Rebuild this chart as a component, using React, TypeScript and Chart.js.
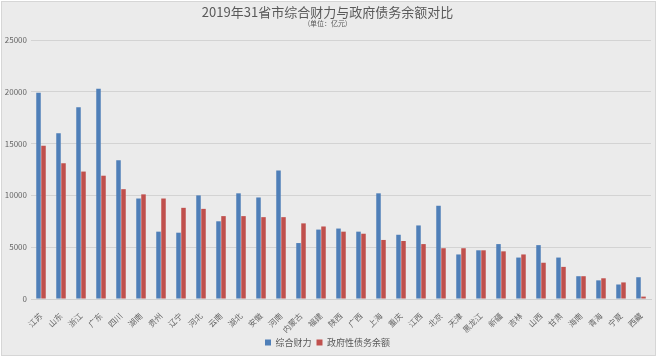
import { useEffect, useRef } from 'react';
import { Chart, registerables } from 'chart.js';

Chart.register(...registerables);

const FONT = '"Noto Sans CJK SC", "Noto Sans", sans-serif';

const categories = ['江苏', '山东', '浙江', '广东', '四川', '湖南', '贵州', '辽宁', '河北', '云南', '湖北', '安徽', '河南', '内蒙古', '福建', '陕西', '广西', '上海', '重庆', '江西', '北京', '天津', '黑龙江', '新疆', '吉林', '山西', '甘肃', '海南', '青海', '宁夏', '西藏'];
const comprehensiveFinance = [19900, 16000, 18500, 20300, 13400, 9700, 6500, 6400, 10000, 7500, 10200, 9800, 12400, 5400, 6700, 6800, 6500, 10200, 6200, 7100, 9000, 4300, 4700, 5300, 4000, 5200, 4000, 2200, 1800, 1400, 2100];
const govDebt = [14800, 13100, 12300, 11900, 10600, 10100, 9700, 8800, 8700, 8000, 8000, 7900, 7900, 7300, 7000, 6500, 6300, 5700, 5600, 5300, 4900, 4900, 4700, 4600, 4300, 3500, 3100, 2200, 2000, 1600, 230];
const seriesNames = ['综合财力', '政府性债务余额'];
const titleText = '2019年31省市综合财力与政府债务余额对比';
const subtitleText = '(单位：亿元)';

export default function App() {
  const ref = useRef<HTMLCanvasElement>(null);
  useEffect(() => {
    document.body.style.margin = '0';
    const bgPlugin = {
      id: 'bg',
      beforeDraw(chart: any) {
        const ctx = chart.ctx;
        ctx.save();
        ctx.fillStyle = '#ffffff';
        ctx.fillRect(0, 0, chart.width, chart.height);
        ctx.fillStyle = '#ebebeb';
        ctx.fillRect(1, 1, 655, 355);
        ctx.strokeStyle = '#d6d6d6';
        ctx.lineWidth = 1;
        ctx.strokeRect(1.5, 1.5, 654, 354);
        ctx.restore();
      },
    };
    const chart = new Chart(ref.current as HTMLCanvasElement, {
      type: 'bar',
      data: {
        labels: categories,
        datasets: [
          { label: seriesNames[0], data: comprehensiveFinance, backgroundColor: '#4f7fb8' },
          { label: seriesNames[1], data: govDebt, backgroundColor: '#c0504d' },
        ],
      },
      options: {
        responsive: false,
        devicePixelRatio: 1,
        animation: false,
        datasets: { bar: { categoryPercentage: 0.5, barPercentage: 0.9 } },
        layout: { padding: { left: 4, right: 9, top: 0, bottom: 2 } },
        plugins: {
          title: {
            display: true,
            text: titleText,
            color: '#595959',
            font: { family: FONT, size: 13, lineHeight: 1, weight: 'normal' },
            padding: { top: 6, bottom: 0 },
          },
          subtitle: {
            display: true,
            text: subtitleText,
            color: '#595959',
            font: { family: FONT, size: 7, lineHeight: 1.2 },
            padding: { top: 0, bottom: 12.6 },
          },
          legend: {
            position: 'bottom',
            labels: {
              boxWidth: 6,
              boxHeight: 6,
              padding: 5,
              color: '#595959',
              font: { family: FONT, size: 9 },
            },
          },
          tooltip: { enabled: false },
        },
        scales: {
          x: {
            grid: { display: false },
            border: { display: true, color: '#cfcfcf' },
            ticks: {
              autoSkip: false,
              minRotation: 45,
              maxRotation: 45,
              padding: 4,
              color: '#666666',
              font: { family: FONT, size: 8 },
            },
            afterFit: (scale: any) => { scale.height = 34; },
          },
          y: {
            min: 0,
            max: 25000,
            ticks: {
              stepSize: 5000,
              padding: 4,
              color: '#666666',
              font: { family: FONT, size: 8 },
              callback: (v: any) => String(v),
            },
            grid: { color: '#d3d3d3', drawTicks: false },
            border: { display: false },
            afterFit: (scale: any) => { scale.width = 27; },
          },
        },
      },
      plugins: [bgPlugin],
    });
    return () => chart.destroy();
  }, []);
  return (
    <div style={{ width: 660, height: 359 }}>
      <canvas ref={ref} width={660} height={359} style={{ display: 'block' }} />
    </div>
  );
}
